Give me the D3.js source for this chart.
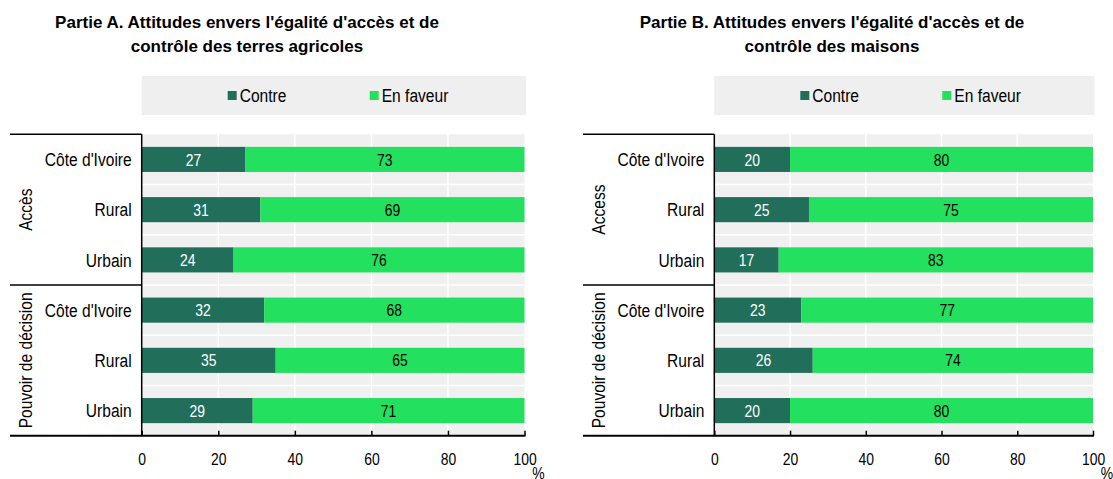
<!DOCTYPE html>
<meta charset='utf-8'>
<style>
    body {
        margin: 0;
        background: #fff;
    }
    text {
        font-family: 'Liberation Sans', Arial, sans-serif;
        fill: #000;
    }
    .title text {
        font-weight: bold;
        font-size: 17px;
    }
</style>
<body>
<div id='container'></div>
<script src='https://d3js.org/d3.v7.min.js'></script>
<script>
    // Data
    const categories = [ "Côte d'Ivoire", 'Rural', 'Urbain', "Côte d'Ivoire", 'Rural', 'Urbain' ];
    const seriesNames = [ 'Contre', 'En faveur' ];
    const groupsA = [ 'Accès', 'Pouvoir de décision' ];
    const groupsB = [ 'Access', 'Pouvoir de décision' ];
    const contreA = [ 27, 31, 24, 32, 35, 29 ];
    const faveurA = [ 73, 69, 76, 68, 65, 71 ];
    const contreB = [ 20, 25, 17, 23, 26, 20 ];
    const faveurB = [ 80, 75, 83, 77, 74, 80 ];
    const tickValues = [ 0, 20, 40, 60, 80, 100 ];
    const titleA = [ "Partie A. Attitudes envers l'égalité d'accès et de", 'contrôle des terres agricoles' ];
    const titleB = [ "Partie B. Attitudes envers l'égalité d'accès et de", 'contrôle des maisons' ];

    const W = 1113, H = 479;
    const plotTop = 134.3, plotBottom = 435.7;
    const narrow = 0.82; // no narrow font installed, squeeze regular one
    const colors = d3.scaleOrdinal().domain( seriesNames ).range( [ '#216f5b', '#23e05e' ] );

    const svg = d3.select( '#container' )
        .append( 'svg' )
        .attr( 'width', W )
        .attr( 'height', H );

    const squeeze = ( x, y ) => `translate( ${x}, ${y} ) scale( ${narrow}, 1 )`;

    const drawPanel = ( cfg ) => {
        let g = svg.append( 'g' );

        let xScale = d3.scaleLinear()
            .domain( [ 0, 100 ] )
            .range( [ cfg.plotLeft, cfg.plotRight ] );

        let yScale = d3.scaleBand()
            .domain( d3.range( categories.length ) )
            .range( [ plotTop, plotBottom ] )
            .paddingInner( 0.5 )
            .paddingOuter( 0.25 );

        // Title
        g.append( 'g' )
            .attr( 'class', 'title' )
            .selectAll( 'text' )
            .data( cfg.title )
            .enter().append( 'text' )
                .attr( 'x', cfg.titleX )
                .attr( 'y', ( d, i ) => 28 + i * 24 )
                .attr( 'text-anchor', 'middle' )
                .text( d => d );

        // Legend
        let legend = g.append( 'g' );
        legend.append( 'rect' )
            .attr( 'x', cfg.plotLeft )
            .attr( 'y', 76 )
            .attr( 'width', cfg.plotRight - cfg.plotLeft + 1.5 )
            .attr( 'height', 39 )
            .style( 'fill', '#efefef' );

        let items = legend.selectAll( '.legend' )
            .data( seriesNames )
            .enter().append( 'g' )
                .attr( 'class', 'legend' )
                .attr( 'transform', ( d, i ) => `translate( ${cfg.plotLeft + 86 + i * 142}, 91 )` );
        items.append( 'rect' )
            .attr( 'width', 9 )
            .attr( 'height', 9 )
            .style( 'fill', d => colors( d ) );
        items.append( 'text' )
            .attr( 'transform', squeeze( 12, 4.5 ) )
            .attr( 'dy', '.35em' )
            .style( 'font-size', '19px' )
            .text( d => d );

        // Plot background + grid
        g.append( 'rect' )
            .attr( 'x', cfg.plotLeft )
            .attr( 'y', plotTop )
            .attr( 'width', cfg.plotRight - cfg.plotLeft )
            .attr( 'height', plotBottom - plotTop )
            .style( 'fill', '#f0f0f0' );

        g.selectAll( '.vgrid' )
            .data( tickValues.slice( 1, -1 ) )
            .enter().append( 'line' )
                .attr( 'class', 'vgrid' )
                .attr( 'x1', d => xScale( d ) )
                .attr( 'x2', d => xScale( d ) )
                .attr( 'y1', plotTop )
                .attr( 'y2', plotBottom )
                .style( 'stroke', '#fff' )
                .style( 'stroke-width', 1.5 );

        g.selectAll( '.hgrid' )
            .data( d3.range( 1, categories.length ) )
            .enter().append( 'line' )
                .attr( 'class', 'hgrid' )
                .attr( 'x1', cfg.plotLeft )
                .attr( 'x2', cfg.plotRight )
                .attr( 'y1', d => plotTop + d * yScale.step() )
                .attr( 'y2', d => plotTop + d * yScale.step() )
                .style( 'stroke', '#fff' )
                .style( 'stroke-width', 1.5 );

        // Bars
        let rows = categories.map( ( c, i ) => {
            let start = 0;
            return [ cfg.contre[ i ], cfg.faveur[ i ] ].map( ( v, j ) => {
                let seg = { name: seriesNames[ j ], value: v, start: start, end: start + v, row: i };
                start += v;
                return seg;
            } );
        } );

        let bars = g.selectAll( '.row' )
            .data( rows )
            .enter().append( 'g' )
                .attr( 'class', 'row' )
                .attr( 'transform', ( d, i ) => `translate( 0, ${yScale( i )} )` );

        bars.selectAll( 'rect' )
            .data( d => d )
            .enter().append( 'rect' )
                .attr( 'x', d => xScale( d.start ) )
                .attr( 'width', d => xScale( d.end ) - xScale( d.start ) )
                .attr( 'height', yScale.bandwidth() )
                .style( 'fill', d => colors( d.name ) );

        bars.selectAll( '.val' )
            .data( d => d )
            .enter().append( 'text' )
                .attr( 'class', 'val' )
                .attr( 'transform', d => squeeze( xScale( ( d.start + d.end ) / 2 ), yScale.bandwidth() / 2 ) )
                .attr( 'dy', '.36em' )
                .attr( 'text-anchor', 'middle' )
                .style( 'font-size', '17px' )
                .style( 'fill', d => d.name === 'Contre' ? '#fff' : '#000' )
                .text( d => d.value );

        // Category labels
        g.selectAll( '.cat' )
            .data( categories )
            .enter().append( 'text' )
                .attr( 'class', 'cat' )
                .attr( 'transform', ( d, i ) => squeeze( cfg.plotLeft - 10, yScale( i ) + yScale.bandwidth() / 2 ) )
                .attr( 'dy', '.35em' )
                .attr( 'text-anchor', 'end' )
                .style( 'font-size', '19px' )
                .text( d => d );

        // Group labels
        let groupSize = categories.length / cfg.groups.length;
        g.selectAll( '.grp' )
            .data( cfg.groups )
            .enter().append( 'text' )
                .attr( 'class', 'grp' )
                .attr( 'transform', ( d, i ) => {
                    let cy = plotTop + ( i + 0.5 ) * groupSize * yScale.step();
                    return `translate( ${cfg.left + 15}, ${cy} ) rotate( -90 ) scale( ${narrow}, 1 )`;
                } )
                .attr( 'dy', '.35em' )
                .attr( 'text-anchor', 'middle' )
                .style( 'font-size', '19px' )
                .text( d => d );

        // Frame lines on the left
        g.selectAll( '.sep' )
            .data( d3.range( 0, categories.length, groupSize ) )
            .enter().append( 'line' )
                .attr( 'class', 'sep' )
                .attr( 'x1', cfg.left )
                .attr( 'x2', cfg.plotLeft )
                .attr( 'y1', d => plotTop + d * yScale.step() )
                .attr( 'y2', d => plotTop + d * yScale.step() )
                .style( 'stroke', '#000' )
                .style( 'stroke-width', 1.5 );

        g.append( 'line' )
            .attr( 'x1', cfg.plotLeft )
            .attr( 'x2', cfg.plotLeft )
            .attr( 'y1', plotTop )
            .attr( 'y2', plotBottom )
            .style( 'stroke', '#000' )
            .style( 'stroke-width', 1.5 );

        // X axis
        let xAxis = d3.axisBottom( xScale )
            .tickValues( tickValues )
            .tickSizeInner( -5 )
            .tickSizeOuter( 0 )
            .tickPadding( 17 );

        let xAxisEl = g.append( 'g' )
            .attr( 'transform', `translate( 0, ${plotBottom} )` )
            .call( xAxis );
        xAxisEl.attr( 'font-family', null ).attr( 'font-size', null );
        xAxisEl.select( '.domain' ).remove();
        xAxisEl.selectAll( '.tick line' )
            .style( 'stroke', '#000' )
            .style( 'stroke-width', 1.5 );
        xAxisEl.selectAll( '.tick text' )
            .attr( 'transform', `scale( ${narrow}, 1 )` )
            .attr( 'fill', '#000' )
            .style( 'font-size', '17px' );

        g.append( 'line' )
            .attr( 'x1', cfg.left )
            .attr( 'x2', cfg.plotRight + 1 )
            .attr( 'y1', plotBottom )
            .attr( 'y2', plotBottom )
            .style( 'stroke', '#000' )
            .style( 'stroke-width', 2 );

        g.append( 'text' )
            .attr( 'transform', squeeze( cfg.plotRight + 14, 478.5 ) )
            .attr( 'text-anchor', 'middle' )
            .style( 'font-size', '17px' )
            .text( '%' );
    };

    drawPanel( {
        title: titleA, groups: groupsA, contre: contreA, faveur: faveurA,
        left: 10, plotLeft: 141.7, plotRight: 524.5, titleX: 247,
    } );
    drawPanel( {
        title: titleB, groups: groupsB, contre: contreB, faveur: faveurB,
        left: 583, plotLeft: 714.3, plotRight: 1093, titleX: 832,
    } );
</script>
</body>
